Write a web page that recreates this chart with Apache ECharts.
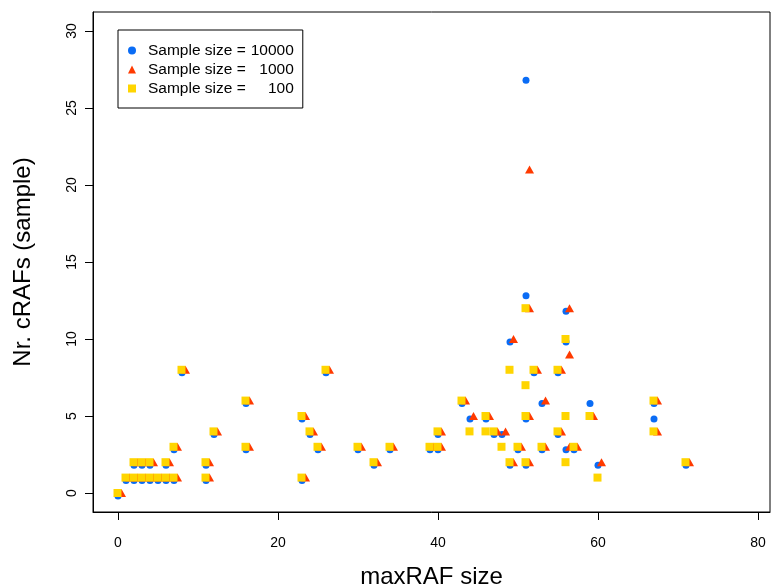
<!DOCTYPE html>
<html>
<head>
<meta charset="utf-8">
<script src="https://cdn.jsdelivr.net/npm/echarts@6/dist/echarts.min.js"></script>
<style>
  html, body { margin: 0; padding: 0; background: #fff; }
  #chart { width: 774px; height: 585px; }
</style>
</head>
<body>
<div id="chart"></div>
<script>
// [maxRAF size, number of cRAFs] for each sample size
const size10000 = [
  [0,0],[1,1],[2,1],[2,2],[3,1],[3,2],[4,1],[4,2],[5,1],[6,1],[6,2],[7,1],[7,3],[8,8],
  [11,1],[11,2],[12,4],[16,3],[16,6],[23,1],[23,5],[24,4],[25,3],[26,8],[30,3],[32,2],
  [34,3],[39,3],[40,3],[40,4],[43,6],[44,5],[46,5],[47,4],[48,4],[49,2],[49,10],[50,3],
  [51,2],[51,5],[51,13],[51,27],[52,8],[53,3],[53,6],[55,4],[55,8],[56,3],[56,10],[56,12],
  [57,3],[59,6],[60,2],[67,5],[67,6],[71,2]
];
const size1000 = [
  [0,0],[1,1],[2,1],[2,2],[3,1],[3,2],[4,1],[4,2],[5,1],[6,1],[6,2],[7,1],[7,3],[8,8],
  [11,1],[11,2],[12,4],[16,3],[16,6],[23,1],[23,5],[24,4],[25,3],[26,8],[30,3],[32,2],
  [34,3],[39,3],[40,3],[40,4],[43,6],[44,5],[46,5],[47,4],[48,4],[49,2],[49,10],[50,3],
  [51,2],[51,5],[51,12],[51,21],[52,8],[53,3],[53,6],[55,4],[55,8],[56,3],[56,9],[56,12],
  [57,3],[59,5],[60,2],[67,4],[67,6],[71,2]
];
const size100 = [
  [0,0],[1,1],[2,1],[2,2],[3,1],[3,2],[4,1],[4,2],[5,1],[6,1],[6,2],[7,1],[7,3],[8,8],
  [11,1],[11,2],[12,4],[16,3],[16,6],[23,1],[23,5],[24,4],[25,3],[26,8],[30,3],[32,2],
  [34,3],[39,3],[40,3],[40,4],[43,6],[44,4],[46,4],[46,5],[47,4],[48,3],[49,2],[49,8],
  [50,3],[51,2],[51,5],[51,7],[51,12],[52,8],[53,3],[55,4],[55,8],[56,2],[56,5],[56,10],
  [57,3],[59,5],[60,1],[67,4],[67,6],[71,2]
];

const seriesNames = ['Sample size = 10000', 'Sample size =  1000', 'Sample size =   100'];
const legendNumbers = ['10000', '1000', '100'];
const xTicks = [0, 20, 40, 60, 80];
const yTicks = [0, 5, 10, 15, 20, 25, 30];

const FONT = '"Liberation Sans", Arial, Helvetica, sans-serif';
const BLUE = '#0a6cf5';
const RED = '#ff3a00';
const YELLOW = '#ffd500';

const chart = echarts.init(document.getElementById('chart'), null, { renderer: 'canvas' });

chart.setOption({
  animation: false,
  backgroundColor: '#fff',
  textStyle: { fontFamily: FONT, color: '#000' },
  grid: {
    left: 93, right: 4, top: 12, bottom: 73,
    containLabel: false, outerBoundsMode: 'none',
    show: true, borderColor: '#000', borderWidth: 1, backgroundColor: 'transparent'
  },
  legend: {
    left: 118, top: 30,
    orient: 'vertical',
    backgroundColor: '#fff',
    borderColor: '#000', borderWidth: 1, borderRadius: 0,
    padding: [11, 9, 10, 10],
    itemWidth: 8, itemHeight: 8, itemGap: 0,
    selectedMode: false,
    data: [
      { name: seriesNames[0], icon: 'circle' },
      { name: seriesNames[1], icon: 'triangle' },
      { name: seriesNames[2], icon: 'rect' }
    ],
    formatter: function (name) {
      const i = seriesNames.indexOf(name);
      return '{a|Sample size =}{n|' + legendNumbers[i] + '}';
    },
    textStyle: {
      fontFamily: FONT, fontSize: 15.5, color: '#000', lineHeight: 19,
      rich: {
        a: { fontFamily: FONT, fontSize: 15.5, color: '#000', padding: [0, 0, 0, 7], lineHeight: 19 },
        n: { fontFamily: FONT, fontSize: 15.5, color: '#000', width: 48, align: 'right', lineHeight: 19 }
      }
    }
  },
  xAxis: {
    type: 'value',
    min: -3.125, max: 81.5,
    name: 'maxRAF size',
    nameLocation: 'middle',
    nameGap: 53,
    nameTextStyle: { fontFamily: FONT, fontSize: 24, color: '#000' },
    axisLine: { show: true, onZero: false, lineStyle: { color: '#000', width: 1 } },
    axisTick: { show: true, length: 8, inside: false, customValues: xTicks, lineStyle: { color: '#000' } },
    axisLabel: { customValues: xTicks, fontFamily: FONT, fontSize: 14, color: '#000', margin: 24 },
    splitLine: { show: false }
  },
  yAxis: {
    type: 'value',
    min: -1.234, max: 31.23,
    name: 'Nr. cRAFs (sample)',
    nameLocation: 'middle',
    nameGap: 58,
    nameTextStyle: { fontFamily: FONT, fontSize: 24, color: '#000' },
    axisLine: { show: true, onZero: false, lineStyle: { color: '#000', width: 1 } },
    axisTick: { show: true, length: 8, inside: false, customValues: yTicks, lineStyle: { color: '#000' } },
    axisLabel: { customValues: yTicks, rotate: 90, fontFamily: FONT, fontSize: 14, color: '#000', margin: 14 },
    splitLine: { show: false }
  },
  series: [
    {
      name: seriesNames[0], type: 'scatter', data: size10000,
      symbol: 'circle', symbolSize: 7, symbolOffset: [0, 3],
      itemStyle: { color: BLUE, opacity: 1 }, z: 2
    },
    {
      name: seriesNames[1], type: 'scatter', data: size1000,
      symbol: 'triangle', symbolSize: [9, 8], symbolOffset: [3.5, 0],
      itemStyle: { color: RED, opacity: 1 }, z: 3
    },
    {
      name: seriesNames[2], type: 'scatter', data: size100,
      symbol: 'rect', symbolSize: 8, symbolOffset: [-0.5, 0],
      itemStyle: { color: YELLOW, opacity: 1 }, z: 4
    }
  ]
});
</script>
</body>
</html>
